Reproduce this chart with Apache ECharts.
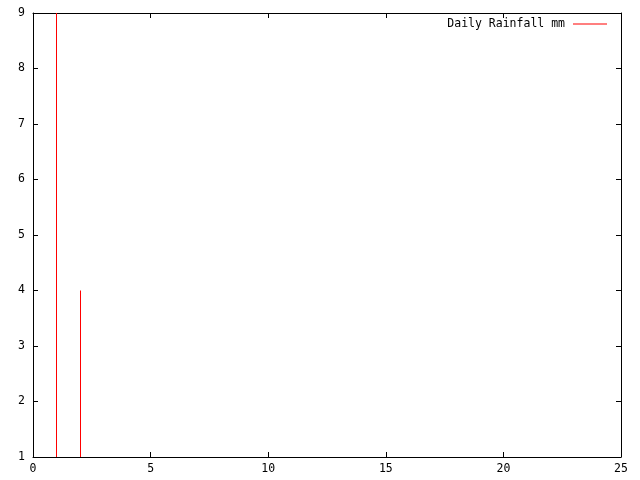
<!DOCTYPE html>
<html><head><meta charset="utf-8">
<script src="https://cdn.jsdelivr.net/npm/echarts@6/dist/echarts.min.js"></script>
<style>html,body{margin:0;padding:0;background:#fff}#c{width:640px;height:480px}</style>
</head><body><div id="c"></div>
<script>
var days = [1, 2];
var rainfall = [9, 4];
var seriesName = 'Daily Rainfall mm';
var xTicks = [0, 5, 10, 15, 20, 25];
var yTicks = [1, 2, 3, 4, 5, 6, 7, 8, 9];

var font = 'DejaVu Sans Mono';
var fs = 11.5;
var chart = echarts.init(document.getElementById('c'), null, {renderer: 'canvas'});
var data = days.map(function (d, i) { return [d, rainfall[i]]; });
var yMin = yTicks[0], yMax = yTicks[yTicks.length - 1];
var xMin = xTicks[0], xMax = xTicks[xTicks.length - 1];
var axisLine = {show: true, onZero: false, lineStyle: {color: '#000', width: 1}};
var tick = {show: true, inside: true, length: 5, lineStyle: {color: '#000'}};
chart.setOption({
  animation: false,
  backgroundColor: '#fff',
  grid: {left: 33, right: 19, top: 13, bottom: 23, containLabel: false},
  legend: {
    show: true, right: 28, top: 13, align: 'right', itemWidth: 34, itemHeight: 1, itemGap: 0,
    textStyle: {fontFamily: font, fontSize: fs, color: '#000', padding: [0, 3, 0, 0]},
    data: [{name: seriesName, icon: 'rect', itemStyle: {color: '#ff0000'}}]
  },
  xAxis: [
    {type: 'value', min: xMin, max: xMax, interval: 5, position: 'bottom',
     axisLine: axisLine, axisTick: tick, splitLine: {show: false},
     axisLabel: {fontFamily: font, fontSize: fs, color: '#000', margin: 6}},
    {type: 'value', min: xMin, max: xMax, interval: 5, position: 'top',
     axisLine: axisLine, axisTick: tick, splitLine: {show: false}, axisLabel: {show: false}}
  ],
  yAxis: [
    {type: 'value', min: yMin, max: yMax, interval: 1, position: 'left',
     axisLine: axisLine, axisTick: tick, splitLine: {show: false},
     axisLabel: {fontFamily: font, fontSize: fs, color: '#000', margin: 8}},
    {type: 'value', min: yMin, max: yMax, interval: 1, position: 'right',
     axisLine: axisLine, axisTick: tick, splitLine: {show: false}, axisLabel: {show: false}}
  ],
  series: [{
    name: seriesName, type: 'custom', data: data, xAxisIndex: 0, yAxisIndex: 0,
    itemStyle: {color: '#ff0000'}, clip: true,
    renderItem: function (params, api) {
      var top = api.coord([api.value(0), api.value(1)]);
      var base = api.coord([api.value(0), yMin]);
      var x = Math.floor(top[0]);
      return {type: 'rect', shape: {x: x, y: top[1], width: 1, height: base[1] - top[1]},
              style: {fill: '#ff0000'}};
    }
  }]
});
</script></body></html>
